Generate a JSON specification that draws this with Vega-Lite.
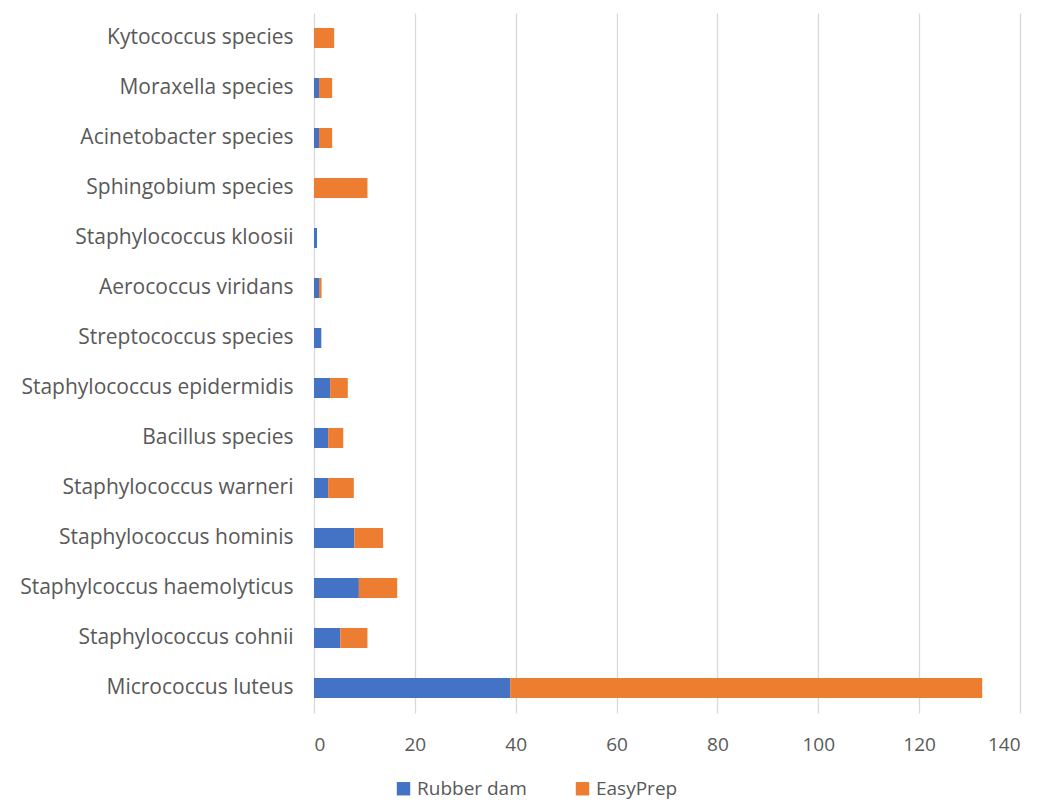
{
  "$schema": "https://vega.github.io/schema/vega-lite/v6.json",
  "width": 706,
  "height": 700,
  "autosize": {"type": "none"},
  "padding": {"left": 314, "top": 13, "right": 20, "bottom": 90},
  "background": "white",
  "data": {
    "values": [
      {"species": "Kytococcus species", "group": "Rubber dam", "k": 1, "count": 0},
      {"species": "Kytococcus species", "group": "EasyPrep", "k": 2, "count": 4},
      {"species": "Moraxella species", "group": "Rubber dam", "k": 1, "count": 1},
      {"species": "Moraxella species", "group": "EasyPrep", "k": 2, "count": 2.6},
      {"species": "Acinetobacter species", "group": "Rubber dam", "k": 1, "count": 1},
      {"species": "Acinetobacter species", "group": "EasyPrep", "k": 2, "count": 2.6},
      {"species": "Sphingobium species", "group": "Rubber dam", "k": 1, "count": 0},
      {"species": "Sphingobium species", "group": "EasyPrep", "k": 2, "count": 10.6},
      {"species": "Staphylococcus kloosii", "group": "Rubber dam", "k": 1, "count": 0.6},
      {"species": "Staphylococcus kloosii", "group": "EasyPrep", "k": 2, "count": 0},
      {"species": "Aerococcus viridans", "group": "Rubber dam", "k": 1, "count": 1},
      {"species": "Aerococcus viridans", "group": "EasyPrep", "k": 2, "count": 0.5},
      {"species": "Streptococcus species", "group": "Rubber dam", "k": 1, "count": 1.45},
      {"species": "Streptococcus species", "group": "EasyPrep", "k": 2, "count": 0},
      {"species": "Staphylococcus epidermidis", "group": "Rubber dam", "k": 1, "count": 3.2},
      {"species": "Staphylococcus epidermidis", "group": "EasyPrep", "k": 2, "count": 3.5},
      {"species": "Bacillus species", "group": "Rubber dam", "k": 1, "count": 2.8},
      {"species": "Bacillus species", "group": "EasyPrep", "k": 2, "count": 3},
      {"species": "Staphylococcus warneri", "group": "Rubber dam", "k": 1, "count": 2.8},
      {"species": "Staphylococcus warneri", "group": "EasyPrep", "k": 2, "count": 5.1},
      {"species": "Staphylococcus hominis", "group": "Rubber dam", "k": 1, "count": 8},
      {"species": "Staphylococcus hominis", "group": "EasyPrep", "k": 2, "count": 5.7},
      {"species": "Staphylcoccus haemolyticus", "group": "Rubber dam", "k": 1, "count": 8.9},
      {"species": "Staphylcoccus haemolyticus", "group": "EasyPrep", "k": 2, "count": 7.6},
      {"species": "Staphylococcus cohnii", "group": "Rubber dam", "k": 1, "count": 5.2},
      {"species": "Staphylococcus cohnii", "group": "EasyPrep", "k": 2, "count": 5.4},
      {"species": "Micrococcus luteus", "group": "Rubber dam", "k": 1, "count": 38.9},
      {"species": "Micrococcus luteus", "group": "EasyPrep", "k": 2, "count": 93.6}
    ]
  },
  "mark": {"type": "bar"},
  "encoding": {
    "y": {
      "field": "species",
      "type": "nominal",
      "sort": ["Kytococcus species", "Moraxella species", "Acinetobacter species", "Sphingobium species", "Staphylococcus kloosii", "Aerococcus viridans", "Streptococcus species", "Staphylococcus epidermidis", "Bacillus species", "Staphylococcus warneri", "Staphylococcus hominis", "Staphylcoccus haemolyticus", "Staphylococcus cohnii", "Micrococcus luteus"],
      "scale": {"paddingInner": 0.6, "paddingOuter": 0.3},
      "axis": {
        "title": null,
        "domain": false,
        "ticks": false,
        "grid": false,
        "labelFont": "Open Sans",
        "labelFontSize": 21,
        "labelColor": "#595959",
        "labelPadding": 21,
        "labelLimit": 400
      }
    },
    "x": {
      "field": "count",
      "type": "quantitative",
      "stack": "zero",
      "scale": {"domain": [0, 140], "nice": false},
      "axis": {
        "title": null,
        "values": [0, 20, 40, 60, 80, 100, 120, 140],
        "domain": false,
        "ticks": false,
        "grid": true,
        "gridColor": "#d9d9d9",
        "gridWidth": 1.3,
        "labelFont": "Open Sans",
        "labelFontSize": 19,
        "labelColor": "#595959",
        "labelPadding": 22
      }
    },
    "color": {
      "field": "group",
      "type": "nominal",
      "scale": {"domain": ["Rubber dam", "EasyPrep"], "range": ["#4472C4", "#ED7D31"]},
      "legend": {
        "title": null,
        "orient": "none",
        "legendX": 80,
        "legendY": 766,
        "direction": "horizontal",
        "symbolType": "square",
        "symbolSize": 180,
        "symbolStrokeWidth": 0,
        "labelFont": "Open Sans",
        "labelFontSize": 19,
        "labelColor": "#595959",
        "labelOffset": 4,
        "columnPadding": 46
      }
    },
    "order": {"field": "k", "type": "quantitative"}
  },
  "config": {"view": {"stroke": null}}
}
